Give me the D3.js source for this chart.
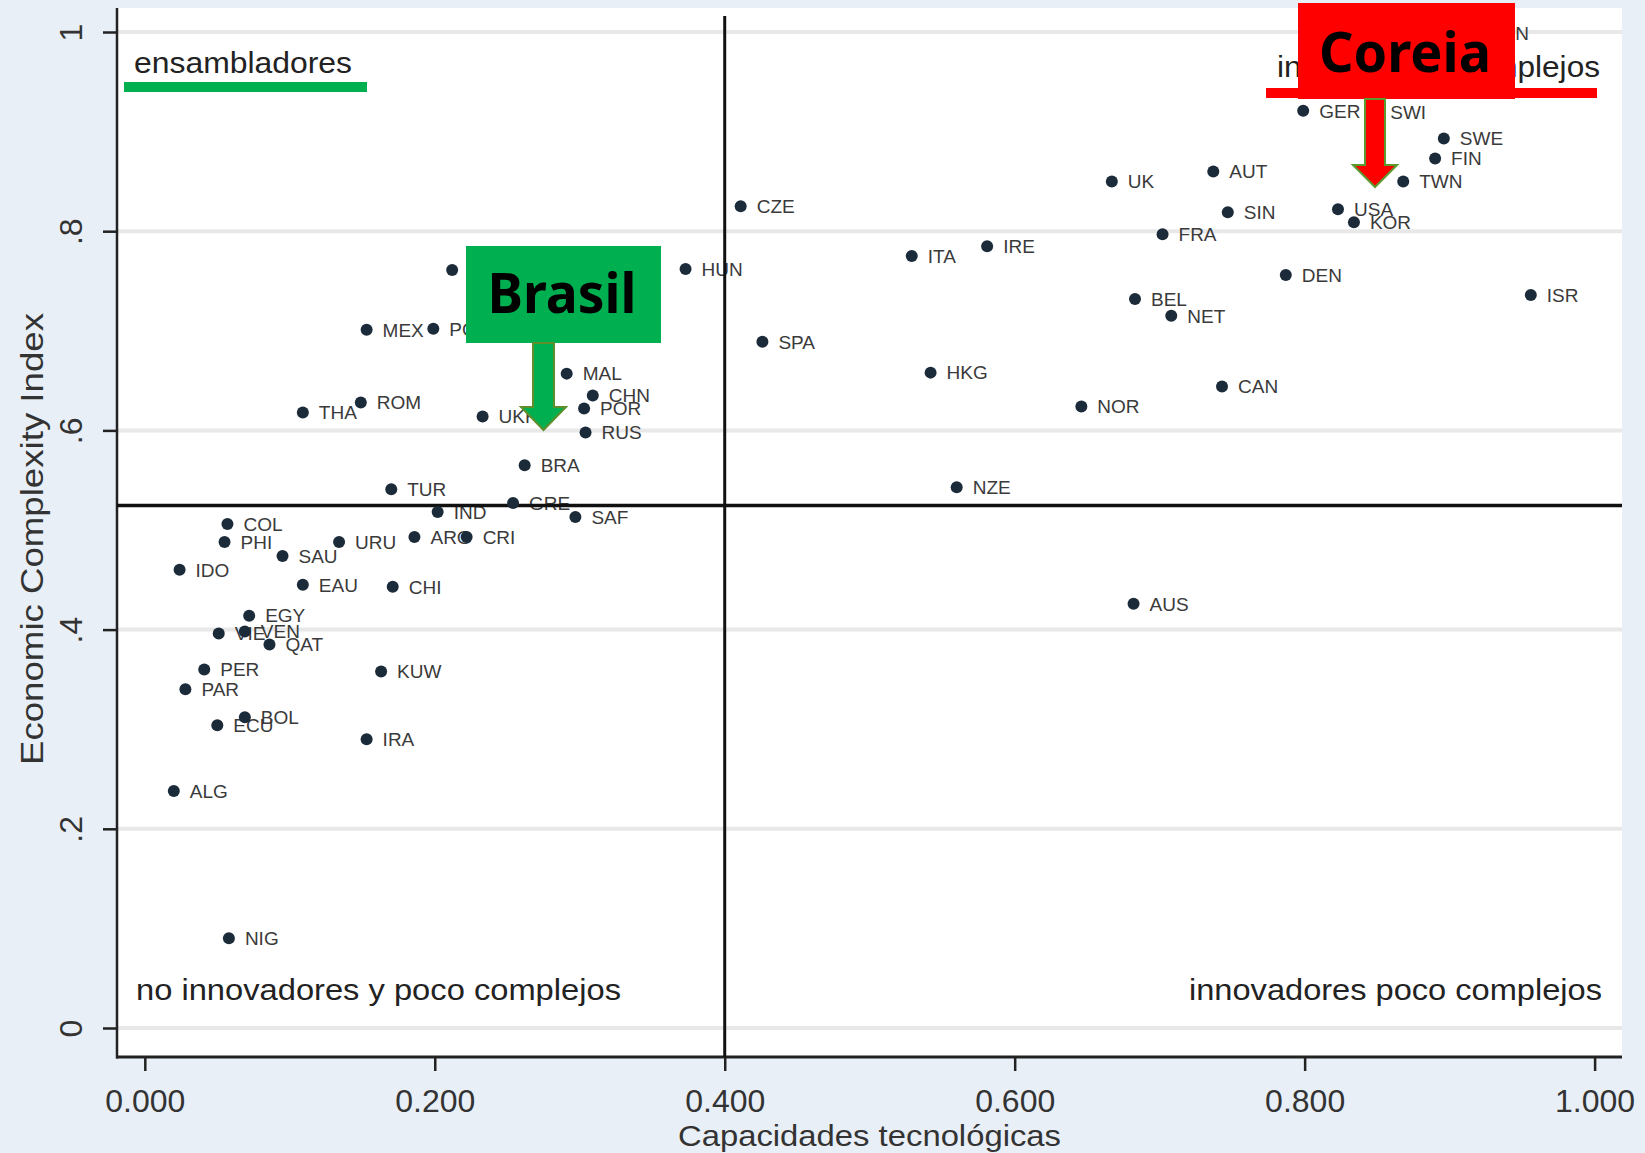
<!DOCTYPE html>
<html><head><meta charset="utf-8">
<script src="https://cdn.jsdelivr.net/npm/d3@7"></script>
<style>body{margin:0;background:#e9eff6}svg{display:block}</style>
</head><body><svg id="c" width="1645" height="1153"></svg>
<script>
// ---- data ----
const countries = ["SVK","HUN","POL","MEX","SPA","CZE","MAL","CHN","POR","RUS","UKR","BRA","TUR","IND","GRE","SAF","ARG","CRI","THA","ROM",
  "COL","PHI","URU","SAU","IDO","EAU","CHI","EGY","VIE","VEN","QAT","PER","PAR","ECU","BOL","KUW","IRA","ALG","NIG",
  "ITA","IRE","HKG","NOR","NZE","AUS","UK","AUT","SIN","FRA","BEL","NET","DEN","CAN","GER","SWI","SWE","FIN","TWN","USA","KOR","ISR","JPN"];
const techCap = [0.212,0.373,0.199,0.153,0.426,0.411,0.291,0.309,0.303,0.304,0.233,0.262,0.170,0.202,0.254,0.297,0.186,0.222,0.109,0.149,
  0.057,0.055,0.134,0.095,0.024,0.109,0.171,0.072,0.051,0.069,0.086,0.041,0.028,0.050,0.069,0.163,0.153,0.020,0.058,
  0.529,0.581,0.542,0.646,0.560,0.682,0.667,0.737,0.747,0.702,0.683,0.708,0.787,0.743,0.799,0.848,0.896,0.890,0.868,0.823,0.834,0.956,0.919];
const eci = [0.761,0.762,0.702,0.701,0.689,0.825,0.657,0.635,0.622,0.598,0.614,0.565,0.541,0.518,0.527,0.513,0.493,0.493,0.618,0.628,
  0.506,0.488,0.488,0.474,0.460,0.445,0.443,0.414,0.396,0.398,0.385,0.360,0.340,0.304,0.312,0.358,0.290,0.238,0.090,
  0.775,0.785,0.658,0.624,0.543,0.426,0.850,0.860,0.819,0.797,0.732,0.715,0.756,0.644,0.921,0.920,0.893,0.873,0.850,0.822,0.809,0.736,0.999];
const xTicks = [0,0.2,0.4,0.6,0.8,1];
const xTickLabels = ["0.000","0.200","0.400","0.600","0.800","1.000"];
const yTicks = [0,0.2,0.4,0.6,0.8,1];
const yTickLabels = ["0",".2",".4",".6",".8","1"];
const xCut = 0.4, yCut = 0.5245;
const xTitle = "Capacidades tecnológicas";
const yTitle = "Economic Complexity Index";

// ---- layout ----
const svg = d3.select("#c");
const P = {l:117, r:1622, t:8, b:1057};
const x = d3.scaleLinear().domain([0,1]).range([144.8,1594.6]);
const y = d3.scaleLinear().domain([0,1]).range([1028,32]);
const FONT = "'Liberation Sans', Arial, sans-serif";

svg.append("rect").attr("width",1645).attr("height",1153).attr("fill","#e9eff6");
svg.append("rect").attr("x",P.l).attr("y",P.t).attr("width",P.r-P.l).attr("height",P.b-P.t).attr("fill","#ffffff");

// gridlines
svg.append("g").selectAll("line").data(yTicks).join("line")
  .attr("x1",P.l).attr("x2",P.r).attr("y1",d=>y(d)).attr("y2",d=>y(d))
  .attr("stroke","#e8e8e8").attr("stroke-width",4);

// y axis
const yAxis = d3.axisLeft(y).tickValues(yTicks).tickSize(14).tickFormat((d,i)=>yTickLabels[i]);
const gy = svg.append("g").attr("transform",`translate(${P.l},0)`).call(yAxis);
gy.select(".domain").remove();
gy.selectAll(".tick line").attr("stroke","#222").attr("stroke-width",2.5);
gy.selectAll(".tick text").attr("transform","rotate(-90)").attr("x",0).attr("y",-35).attr("dy",0)
  .attr("text-anchor","middle").attr("font-family",FONT).attr("font-size",32).attr("fill","#333");

// x axis
const xAxis = d3.axisBottom(x).tickValues(xTicks).tickSize(14).tickFormat((d,i)=>xTickLabels[i]);
const gx = svg.append("g").attr("transform",`translate(0,${P.b})`).call(xAxis);
gx.select(".domain").remove();
gx.selectAll(".tick line").attr("stroke","#222").attr("stroke-width",2.5);
gx.selectAll(".tick text").attr("y",55).attr("dy",0)
  .attr("font-family",FONT).attr("font-size",32).attr("fill","#333");

// axis lines
svg.append("line").attr("x1",P.l).attr("x2",P.l).attr("y1",P.t).attr("y2",P.b+1.5).attr("stroke","#222").attr("stroke-width",2.5);
svg.append("line").attr("x1",P.l-1).attr("x2",P.r).attr("y1",P.b).attr("y2",P.b).attr("stroke","#222").attr("stroke-width",3);

// axis titles
svg.append("text").attr("x",(P.l+P.r)/2).attr("y",1146).attr("text-anchor","middle")
  .attr("font-family",FONT).attr("font-size",29).attr("fill","#333")
  .attr("textLength",383).attr("lengthAdjust","spacingAndGlyphs").text(xTitle);
svg.append("text").attr("transform","translate(43,539) rotate(-90)").attr("text-anchor","middle")
  .attr("font-family",FONT).attr("font-size",31).attr("fill","#333")
  .attr("textLength",452).attr("lengthAdjust","spacingAndGlyphs").text(yTitle);

// data labels
const pts = countries.map((c,i)=>({c, x:techCap[i], y:eci[i]}));
svg.append("g").selectAll("text").data(pts).join("text")
  .attr("x",d=>x(d.x)+16).attr("y",d=>y(d.y)).attr("dy","0.36em")
  .attr("font-family",FONT).attr("font-size",19).attr("fill","#3a3a3a").text(d=>d.c);

// reference lines
svg.append("line").attr("x1",P.l).attr("x2",P.r).attr("y1",y(yCut)).attr("y2",y(yCut)).attr("stroke","#111").attr("stroke-width",3.5);
svg.append("line").attr("x1",x(xCut)).attr("x2",x(xCut)).attr("y1",16).attr("y2",P.b).attr("stroke","#111").attr("stroke-width",3);

// dots
svg.append("g").selectAll("circle").data(pts).join("circle")
  .attr("cx",d=>x(d.x)).attr("cy",d=>y(d.y)).attr("r",6).attr("fill","#1c2b3a");

// quadrant labels
function qtext(t,xp,yp,anchor,len){
  svg.append("text").attr("x",xp).attr("y",yp).attr("text-anchor",anchor)
    .attr("font-family",FONT).attr("font-size",29).attr("fill","#222")
    .attr("textLength",len).attr("lengthAdjust","spacingAndGlyphs").text(t);
}
qtext("ensambladores",134,73,"start",218);
qtext("innovadores complejos",1600,77,"end",323);
qtext("no innovadores y poco complejos",136,1000,"start",485);
qtext("innovadores poco complejos",1602,1000,"end",413);

// underlines
svg.append("rect").attr("x",124).attr("y",82).attr("width",243).attr("height",10).attr("fill","#00b050");
svg.append("rect").attr("x",1266).attr("y",88).attr("width",331).attr("height",10).attr("fill","#ff0000");

// Coreia callout
svg.append("rect").attr("x",1298).attr("y",3).attr("width",217).attr("height",96).attr("fill","#ff0000");
svg.append("text").attr("x",1405).attr("y",72).attr("text-anchor","middle")
  .attr("font-family","'Noto Sans', 'Open Sans', sans-serif").attr("font-weight",700).attr("font-size",56).attr("fill","#000")
  .attr("textLength",172).attr("lengthAdjust","spacingAndGlyphs").text("Coreia");
svg.append("path").attr("d","M1365,99 L1385,99 L1385,165 L1397,165 L1375,187 L1353,165 L1365,165 Z")
  .attr("fill","#ff0000").attr("stroke","#5a9a2e").attr("stroke-width",2);

// Brasil callout
svg.append("rect").attr("x",466).attr("y",246).attr("width",195).attr("height",97).attr("fill","#00b050");
svg.append("text").attr("x",562).attr("y",313).attr("text-anchor","middle")
  .attr("font-family","'Noto Sans', 'Open Sans', sans-serif").attr("font-weight",700).attr("font-size",56).attr("fill","#000")
  .attr("textLength",149).attr("lengthAdjust","spacingAndGlyphs").text("Brasil");
svg.append("path").attr("d","M533,343 L554,343 L554,407 L566,407 L543.5,430 L521,407 L533,407 Z")
  .attr("fill","#00b050").attr("stroke","#5f8f2a").attr("stroke-width",2);
</script></body></html>
